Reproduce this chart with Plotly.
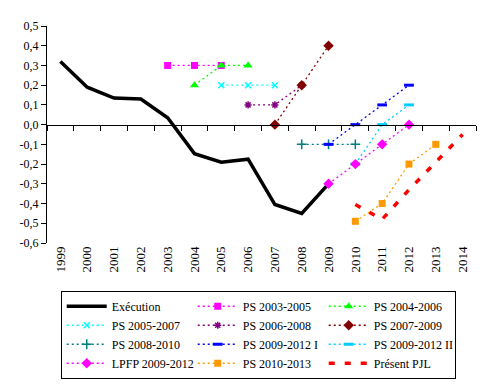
import plotly.graph_objects as go

years = [str(y) for y in range(1999, 2015)]
y_tickvals = [0.5, 0.4, 0.3, 0.2, 0.1, 0.0, -0.1, -0.2, -0.3, -0.4, -0.5, -0.6]
y_ticktext = ["0,5", "0,4", "0,3", "0,2", "0,1", "0,0", "-0,1", "-0,2", "-0,3", "-0,4", "-0,5", "-0,6"]

exec_x = ["1999", "2000", "2001", "2002", "2003", "2004", "2005", "2006", "2007", "2008", "2009"]
exec_y = [0.32, 0.19, 0.135, 0.13, 0.035, -0.147, -0.19, -0.175, -0.405, -0.45, -0.30]

ps0305_x = ["2003", "2004", "2005"]; ps0305_y = [0.3, 0.3, 0.3]
ps0406_x = ["2004", "2005", "2006"]; ps0406_y = [0.2, 0.3, 0.3]
ps0507_x = ["2005", "2006", "2007"]; ps0507_y = [0.2, 0.2, 0.2]
ps0608_x = ["2006", "2007", "2008"]; ps0608_y = [0.1, 0.1, 0.2]
ps0709_x = ["2007", "2008", "2009"]; ps0709_y = [0.0, 0.2, 0.4]
ps0810_x = ["2008", "2009", "2010"]; ps0810_y = [-0.1, -0.1, -0.1]
ps0912a_x = ["2009", "2010", "2011", "2012"]; ps0912a_y = [-0.1, 0.0, 0.1, 0.2]
ps0912b_x = ["2010", "2011", "2012"]; ps0912b_y = [-0.2, 0.0, 0.1]
lpfp_x = ["2009", "2010", "2011", "2012"]; lpfp_y = [-0.3, -0.2, -0.1, 0.0]
ps1013_x = ["2010", "2011", "2012", "2013"]; ps1013_y = [-0.49, -0.4, -0.2, -0.1]
pjl_x = ["2010", "2011", "2012", "2013", "2014"]; pjl_y = [-0.405, -0.48, -0.33, -0.19, -0.05]

FONT = "Liberation Serif"
DOT = "2px,3px"

fig = go.Figure()

def add(name, x, y, color, symbol=None, msize=7, lw=1.3, dash=DOT, mline=None):
    mode = "lines+markers" if symbol else "lines"
    marker = dict(symbol=symbol, size=msize, color=color) if symbol else None
    if symbol and mline:
        marker["line"] = dict(color=color, width=mline)
    fig.add_trace(go.Scatter(x=x, y=y, name=name, mode=mode,
                             line=dict(color=color, width=lw, dash=dash),
                             marker=marker))

add("Exécution", exec_x, exec_y, "#000000", lw=3.5, dash="solid")
add("PS 2003-2005", ps0305_x, ps0305_y, "#FF00FF", "square", 7)
add("PS 2004-2006", ps0406_x, ps0406_y, "#00FF00", "triangle-up", 8)
add("PS 2005-2007", ps0507_x, ps0507_y, "#00FFFF", "x-thin-open", 6, mline=1.5)
add("PS 2006-2008", ps0608_x, ps0608_y, "#800080", "asterisk-open", 6, mline=1.5)
add("PS 2007-2009", ps0709_x, ps0709_y, "#800000", "diamond", 8)
add("PS 2008-2010", ps0810_x, ps0810_y, "#008080", "cross-thin-open", 7, mline=1.5)
add("PS 2009-2012 I", ps0912a_x, ps0912a_y, "#0000FF", "line-ew-open", 7, mline=3)
add("PS 2009-2012 II", ps0912b_x, ps0912b_y, "#00CCFF", "line-ew-open", 7, mline=3)
add("LPFP 2009-2012", lpfp_x, lpfp_y, "#FF00FF", "diamond", 8)
add("PS 2010-2013", ps1013_x, ps1013_y, "#FF9900", "square", 7)
add("Présent PJL", pjl_x, pjl_y, "#FF0000", lw=3.5, dash="6px,10px")

# empty helper trace so the zero-level category axis (with boundary ticks) is drawn
fig.add_trace(go.Scatter(x=years, y=[None] * len(years), xaxis="x2", mode="lines",
                         showlegend=False, hoverinfo="skip"))

zero_pos = 0.6 / 1.1

fig.update_layout(
    width=491, height=385,
    margin=dict(l=47, r=15, t=26, b=142, autoexpand=False),
    paper_bgcolor="white", plot_bgcolor="white",
    font=dict(family=FONT, size=12, color="black"),
    showlegend=True,
    legend=dict(orientation="h", x=0.032, xanchor="left", y=-0.22, yanchor="top",
                bordercolor="black", borderwidth=1, entrywidth=76, entrywidthmode="pixels",
                font=dict(family=FONT, size=12), traceorder="normal",
                itemwidth=40),
    xaxis=dict(type="category", categoryorder="array", categoryarray=years,
               range=[-0.5, len(years) - 0.5], showgrid=False, showline=False,
               ticks="", tickangle=-90, tickfont=dict(family=FONT, size=13),
               zeroline=False),
    xaxis2=dict(type="category", categoryorder="array", categoryarray=years,
                overlaying="x", anchor="free", position=zero_pos,
                range=[-0.5, len(years) - 0.5], showgrid=False, showline=True,
                linecolor="black", linewidth=1, ticks="outside", ticklen=5,
                tickson="boundaries", tickcolor="black", showticklabels=False,
                zeroline=False),
    yaxis=dict(range=[-0.6, 0.5], tickvals=y_tickvals, ticktext=y_ticktext,
               showgrid=False, zeroline=False, showline=True, linecolor="black",
               linewidth=1, ticks="outside", ticklen=5, tickcolor="black",
               tickfont=dict(family=FONT, size=12)),
)

fig.write_html("out.html", config={"displayModeBar": False},
               post_script="document.body.style.margin='0px';document.body.style.overflow='hidden';")
